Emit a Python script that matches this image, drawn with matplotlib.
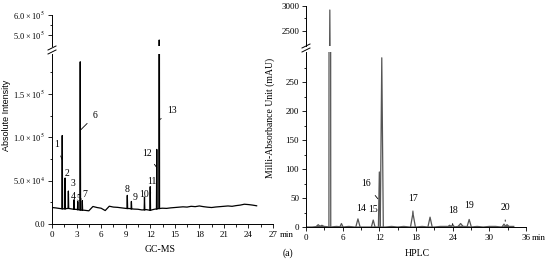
import matplotlib
matplotlib.use('Agg')
import matplotlib.pyplot as plt
import numpy as np
from matplotlib.lines import Line2D

plt.rcParams['font.family'] = 'Liberation Serif'
plt.rcParams['mathtext.fontset'] = 'stix'

# ---- GC-MS data (retention time in min, intensity) ----
gc_base_t = np.arange(0, 25.01, 0.5)
gc_base_v = np.array([1.90, 1.85, 1.78, 1.75, 1.80, 1.72, 1.68, 1.62, 1.58, 1.52,
                      2.02, 1.90, 1.82, 1.55, 2.05, 1.95, 1.92, 1.86, 1.80, 1.78,
                      1.72, 1.70, 1.62, 1.66, 1.58, 1.70, 1.78, 1.82, 1.80, 1.86,
                      1.90, 1.94, 1.98, 1.95, 2.04, 2.00, 2.08, 2.00, 1.94, 1.90,
                      1.96, 2.00, 2.04, 2.08, 2.04, 2.12, 2.18, 2.28, 2.24, 2.18,
                      2.10]) * 1e4
gc_peak_t = [1.25, 1.6, 2.0, 2.7, 3.15, 3.45, 3.7, 9.2, 9.7, 11.3, 12.0, 12.8, 13.1]
gc_peak_h = [1.02e5, 5.3e4, 3.8e4, 2.8e4, 2.6e4, 1.87e5, 2.7e4, 3.3e4, 2.6e4,
             3.1e4, 4.3e4, 8.6e4, 4.75e5]
gc_labels = ['1', '2', '3', '4', '5', '6', '7', '8', '9', '10', '11', '12', '13']

# ---- HPLC data (retention time in min, mAU) ----
lc_base_t = np.arange(0, 34.01, 1.0)
lc_base_v = [0, 0, 1, 1, 0, 1, 0, 1, 0, 0, 0, 0, 0, 0, 1, 0, 1, 0, 0, 1,
             0, 0, 1, 1, 0, 1, 1, 0, 1, 0, 1, 1, 0, 1, 1]
lc_peak_t = [2.0, 2.6, 3.9, 5.8, 8.5, 11.0, 12.0, 12.4, 17.5, 20.3, 23.5, 24.0,
             25.3, 26.7, 32.4, 32.9]
lc_peak_h = [4, 3, 2920, 6, 14, 12, 95, 292, 24, 17, 3, 4, 6, 13, 5, 4]
lc_peak_w = [0.3, 0.3, 0.15, 0.25, 0.35, 0.3, 0.15, 0.25, 0.4, 0.35, 0.3, 0.3,
             0.4, 0.35, 0.3, 0.3]
lc_label_t = [8.5, 11.0, 12.05, 17.5, 24.0, 26.7, 32.6]
lc_label_y = [14, 12, 45, 24, 4, 13, 5]
lc_labels = ['14', '15', '16', '17', '18', '19', '20']

# label anchor points on the GC-MS trace
gc_lab_xy = [1.25, 1.6, 2.0, 2.7, 3.15, 3.45, 3.7, 9.2, 9.7, 11.3, 12.0, 12.8, 13.1]
gc_lab_yv = [7.4e4, 5.3e4, 3.3e4, 2.8e4, 2.6e4, 1.08e5, 2.7e4, 3.3e4, 2.6e4,
             3.1e4, 3.2e4, 6.5e4, 1.2e5]

# label offsets in pixels (dx, dy) and whether a leader line is drawn
gc_off = [(-6, 15), (2, 5), (5, 12), (-1, 3), (1, 3), (15, 15), (3, 6), (0, 6),
          (4, 4), (0, 3), (2, 15), (-10, 14), (13, 9)]
gc_lead = [True, False, True, False, False, True, False, False, False, False,
           True, True, True]
lc_off = [(3, 10), (0, 11), (-14, 17), (0, 15), (0, 14), (0, 14), (0, 17)]
lc_lead = [False, False, True, True, True, False, True]

W, H = 550, 261
TS = '\u2009×\u2009'


def box(x0, y0, x1, y1):
    return [x0 / W, 1 - y1 / H, (x1 - x0) / W, (y1 - y0) / H]


def draw_trace(ax, bt, bv, pt, ph, pw, color, lw):
    ax.plot(bt, bv, color=color, lw=lw)
    for t, h, w in zip(pt, ph, pw):
        foot = np.interp(t, bt, bv)
        ax.plot([t - w, t, t + w], [foot, h, foot], color=color, lw=lw)


def style(ax, upper):
    for s in ['top', 'right']:
        ax.spines[s].set_visible(False)
    for s in ['left', 'bottom']:
        ax.spines[s].set_linewidth(0.7)
    ax.tick_params(which='both', direction='out', width=0.6, labelsize=6.5, pad=2)
    ax.tick_params(which='major', length=3)
    ax.tick_params(which='minor', length=1.8)
    if upper:
        ax.spines['bottom'].set_visible(False)
        ax.tick_params(axis='x', which='both', bottom=False, labelbottom=False)


fig = plt.figure(figsize=(5.5, 2.61), dpi=100)

gc_lo = fig.add_axes(box(52, 54, 273, 224))
gc_hi = fig.add_axes(box(52, 15, 273, 46))
lc_lo = fig.add_axes(box(306, 52, 526, 227))
lc_hi = fig.add_axes(box(306, 6, 526, 46))

gw = [0.04] * len(gc_peak_t)
for ax in (gc_lo, gc_hi):
    draw_trace(ax, gc_base_t, gc_base_v, gc_peak_t, gc_peak_h, gw, 'black', 0.9)
    ax.set_xlim(0, 27)
for ax in (lc_lo, lc_hi):
    draw_trace(ax, lc_base_t, lc_base_v, lc_peak_t, lc_peak_h, lc_peak_w, '#555555', 0.9)
    ax.set_xlim(0, 36)

gc_lo.set_ylim(0, 1.96e5)
gc_hi.set_ylim(4.45e5, 6.0e5)
lc_lo.set_ylim(0, 302)
lc_hi.set_ylim(2200, 3000)

style(gc_lo, False)
style(gc_hi, True)
style(lc_lo, False)
style(lc_hi, True)

gc_lo.set_xticks(np.arange(0, 28, 3))
gc_lo.set_xticks(np.arange(0, 27, 1.5), minor=True)
gc_lo.set_yticks([0, 5e4, 1e5, 1.5e5])
gc_lo.set_yticklabels(['0.0', '5.0' + TS + '10$^4$', '1.0' + TS + '10$^5$',
                       '1.5' + TS + '10$^5$'])
gc_lo.set_yticks(np.arange(2.5e4, 1.96e5, 5e4), minor=True)
gc_hi.set_yticks([5e5, 6e5])
gc_hi.set_yticklabels(['5.0' + TS + '10$^5$', '6.0' + TS + '10$^5$'])
gc_hi.set_yticks([5.5e5], minor=True)
for ax in (gc_lo, gc_hi):
    ax.tick_params(axis='y', labelsize=6)

lc_lo.set_xticks(np.arange(0, 37, 6))
lc_lo.set_xticks(np.arange(0, 36, 3), minor=True)
lc_lo.set_yticks(np.arange(0, 251, 50))
lc_lo.set_yticks(np.arange(25, 300, 50), minor=True)
lc_hi.set_yticks([2500, 3000])
lc_hi.set_yticks([2750], minor=True)

# peak labels
for t, y, lab, off, lead in zip(gc_lab_xy, gc_lab_yv, gc_labels, gc_off, gc_lead):
    ap = dict(arrowstyle='-', lw=0.6, color='black', shrinkA=3, shrinkB=0) if lead else None
    gc_lo.annotate(lab, xy=(t, y), xytext=off, textcoords='offset pixels',
                   fontsize=7, ha='center', va='center', arrowprops=ap)
for t, y, lab, off, lead in zip(lc_label_t, lc_label_y, lc_labels, lc_off, lc_lead):
    ap = dict(arrowstyle='-', lw=0.6, color='black', shrinkA=4, shrinkB=2) if lead else None
    lc_lo.annotate(lab, xy=(t, y), xytext=off, textcoords='offset pixels',
                   fontsize=7, ha='center', va='center', arrowprops=ap)

# break marks on the y axes
for x0, ys in [(52, (48, 52)), (306, (46, 50))]:
    for yc in ys:
        fig.add_artist(Line2D([(x0 - 4) / W, (x0 + 4) / W],
                              [1 - (yc + 2) / H, 1 - (yc - 2) / H],
                              color='black', lw=0.7))

gc_lo.annotate('min', xy=(1, 0), xycoords='axes fraction', xytext=(7, -11),
               textcoords='offset pixels', fontsize=6.5, ha='left', va='center')
lc_lo.annotate('min', xy=(1, 0), xycoords='axes fraction', xytext=(6, -11),
               textcoords='offset pixels', fontsize=6.5, ha='left', va='center')

fig.text(7 / W, 1 - 115 / H, 'Absolute Intensity', rotation=90, ha='center',
         va='center', fontsize=6.5, family='Liberation Sans')
fig.text(270 / W, 1 - 118 / H, 'Milli-Absorbance Unit (mAU)', rotation=90,
         ha='center', va='center', fontsize=7)
fig.text(160 / W, 1 - 250 / H, 'GC-MS', ha='center', va='center', fontsize=7)
fig.text(288 / W, 1 - 253 / H, '(a)', ha='center', va='center', fontsize=7)
fig.text(417 / W, 1 - 253 / H, 'HPLC', ha='center', va='center', fontsize=7)

fig.savefig('out.png', dpi=100)
